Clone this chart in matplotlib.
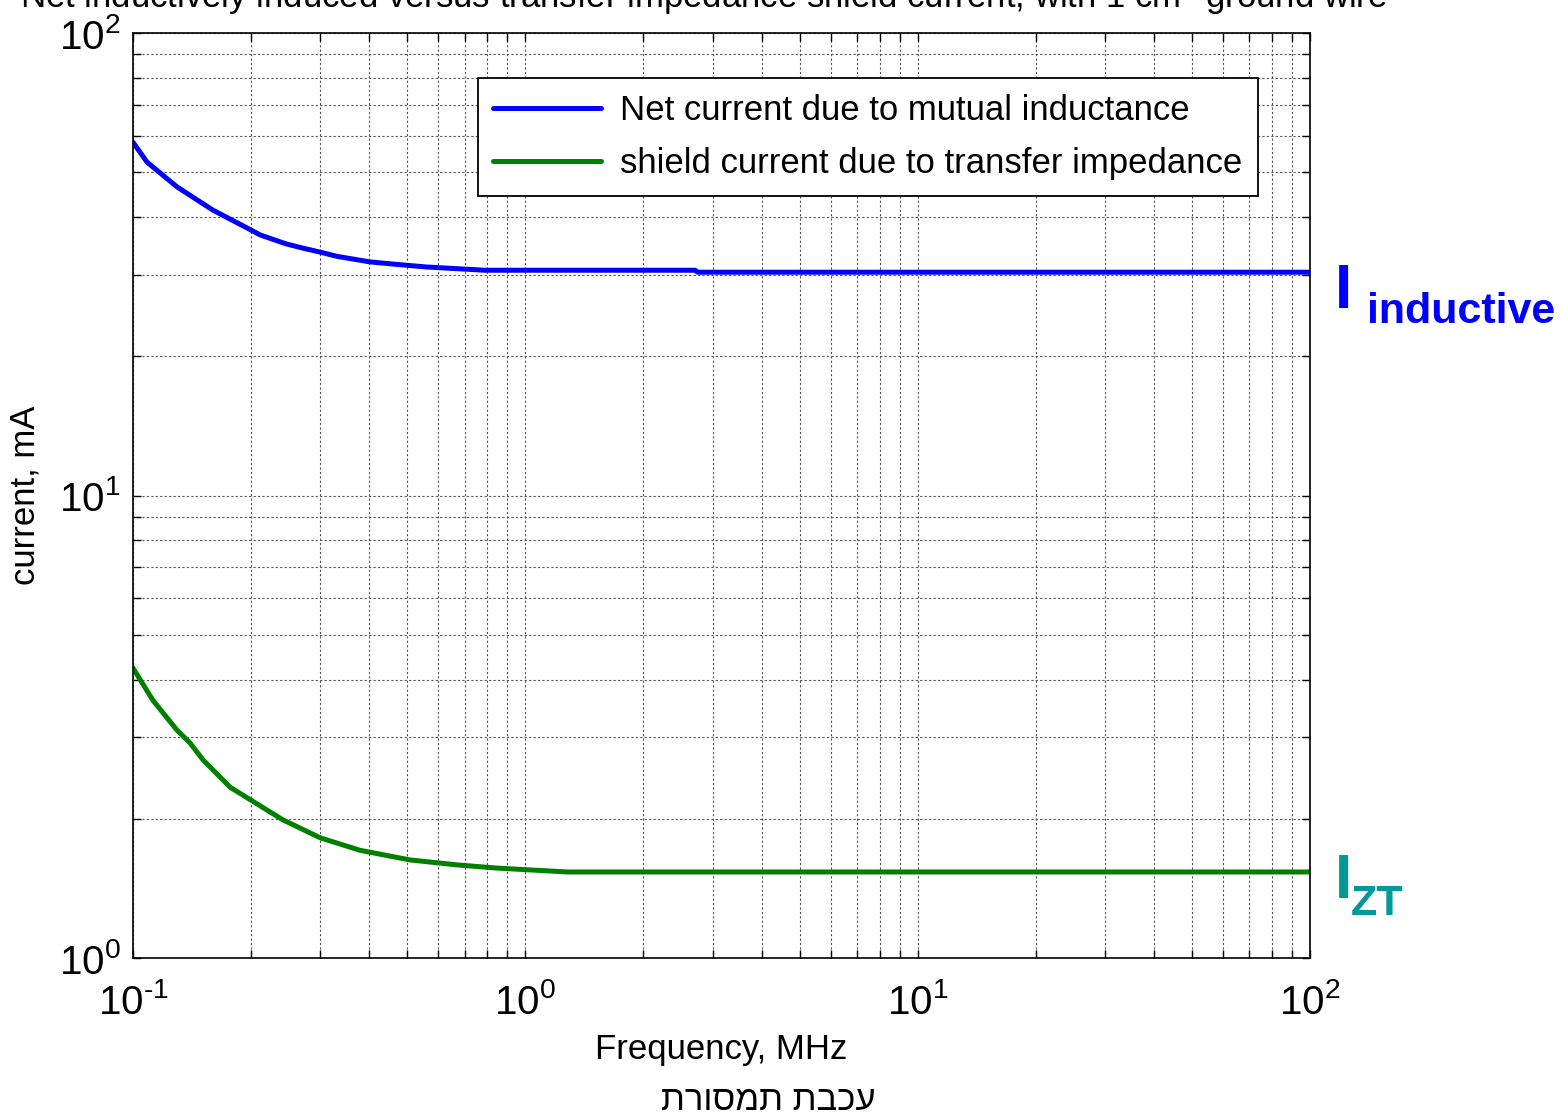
import matplotlib
matplotlib.use('Agg')
import matplotlib.pyplot as plt
from matplotlib.ticker import LogLocator, NullFormatter, FixedLocator
import numpy as np

plt.rcParams['font.family'] = ['Liberation Sans', 'DejaVu Sans']
plt.rcParams['mathtext.fontset'] = 'custom'
plt.rcParams['mathtext.rm'] = 'Liberation Sans'
plt.rcParams['mathtext.it'] = 'Liberation Sans'

# data (frequency in MHz, current in mA)
f_ind = [0.1, 0.1086, 0.1295, 0.1397, 0.16, 0.1953, 0.211, 0.241, 0.246, 0.27,
         0.30, 0.331, 0.402, 0.471, 0.561, 0.789, 2.71, 2.75, 100]
i_ind = [58.1, 52.6, 46.5, 44.6, 41.4, 37.9, 36.6, 35.2, 35.0, 34.3,
         33.6, 32.9, 32.0, 31.6, 31.2, 30.7, 30.7, 30.4, 30.4]

f_zt = [0.1, 0.1124, 0.1295, 0.1397, 0.151, 0.177, 0.199, 0.241, 0.30,
        0.379, 0.508, 0.67, 0.847, 1.28, 100]
i_zt = [4.24, 3.61, 3.11, 2.92, 2.68, 2.34, 2.20, 1.99, 1.82,
        1.71, 1.63, 1.59, 1.565, 1.535, 1.535]

labels = ['Net current due to mutual inductance',
          'shield current due to transfer impedance']
x_ticks = [0.1, 1, 10, 100]
x_ticklabels = [r'$10^{\text{-}1}$', r'$10^{0}$', r'$10^{1}$', r'$10^{2}$']
y_ticks = [1, 10, 100]
y_ticklabels = [r'$10^{0}$', r'$10^{1}$', r'$10^{2}$']

fig = plt.figure(figsize=(15.62, 11.2), dpi=100)
ax = fig.add_axes([0.0851, 0.1446, 0.8387 - 0.0851, 0.9705 - 0.1446])

ax.plot(f_ind, i_ind, color='#0000ff', lw=3.6, label=labels[0], solid_capstyle='round')
ax.plot(f_zt, i_zt, color='#008000', lw=3.6, label=labels[1], solid_capstyle='round')

ax.set_xscale('log')
ax.set_yscale('log')
ax.set_xlim(0.1, 100)
ax.set_ylim(1, 100)

ax.xaxis.set_major_locator(FixedLocator(x_ticks))
ax.set_xticklabels(x_ticklabels)
ax.yaxis.set_major_locator(FixedLocator(y_ticks))
ax.set_yticklabels(y_ticklabels)
ax.xaxis.set_minor_locator(LogLocator(base=10, subs=np.arange(2, 10)))
ax.yaxis.set_minor_locator(LogLocator(base=10, subs=np.arange(2, 10)))
ax.xaxis.set_minor_formatter(NullFormatter())
ax.yaxis.set_minor_formatter(NullFormatter())

ax.tick_params(which='both', direction='in', top=True, right=True,
               length=6, width=1, color='black')
ax.tick_params(axis='x', which='major', labelsize=29, pad=18)
ax.tick_params(axis='y', which='major', labelsize=29, pad=9)

ax.grid(True, which='both', color='#555555', linestyle=(0, (2, 2)), lw=0.8)
for s in ax.spines.values():
    s.set_linewidth(1.2)
    s.set_color('black')

ax.set_xlabel('Frequency, MHz', fontsize=25, labelpad=8)
ax.set_ylabel('current, mA', fontsize=25, labelpad=12)

fig.text(704 / 1562, 1 - 8 / 1120,
         'Net inductively induced versus transfer impedance shield current, with 1 cm$^2$ ground wire',
         fontsize=25, ha='center', va='baseline')

leg = ax.legend(loc='upper left', bbox_to_anchor=(0.293, 0.951), borderaxespad=0,
                fontsize=25, handlelength=3.1, borderpad=0.45, labelspacing=0.58,
                handletextpad=0.55, fancybox=False, framealpha=1, edgecolor='black')
leg.get_frame().set_linewidth(1.3)

# side annotations
fig.text(1335 / 1562, 1 - 308 / 1120, 'I', color='#0000ff', fontsize=45,
         fontweight='bold', ha='left', va='baseline')
fig.text(1367 / 1562, 1 - 323 / 1120, 'inductive', color='#0000ff', fontsize=31,
         fontweight='bold', ha='left', va='baseline')
fig.text(1335 / 1562, 1 - 898 / 1120, 'I', color='#009999', fontsize=45,
         fontweight='bold', ha='left', va='baseline')
fig.text(1351 / 1562, 1 - 915 / 1120, 'ZT', color='#009999', fontsize=31,
         fontweight='bold', ha='left', va='baseline')

# Hebrew caption (reversed for visual right-to-left order)
fig.text(768 / 1562, 1 - 1100 / 1120, 'עכבת תמסורת'[::-1], fontsize=25,
         ha='center', va='center')

fig.savefig('out.png', dpi=100)
